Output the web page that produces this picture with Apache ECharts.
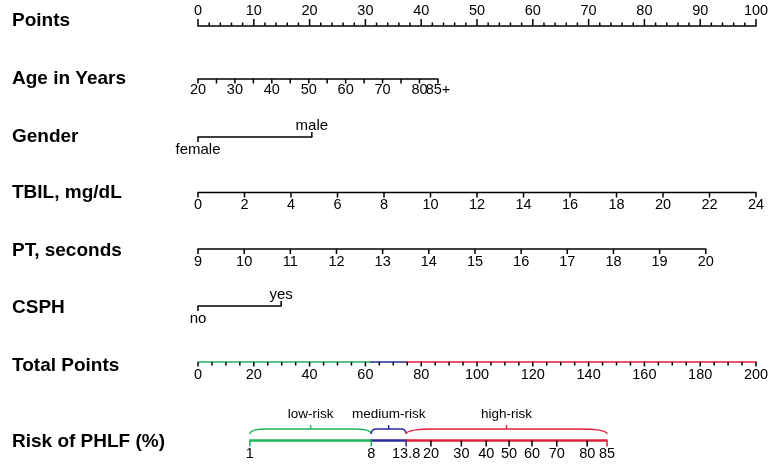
<!DOCTYPE html>
<html><head><meta charset="utf-8">
<script src="https://cdn.jsdelivr.net/npm/echarts@6/dist/echarts.min.js"></script>
<style>html,body{margin:0;padding:0;background:#fff}#c{width:772px;height:465px}</style>
</head><body><div id="c"></div>
<script>
// ---- data ----
const rowTitles = ['Points','Age in Years','Gender','TBIL, mg/dL','PT, seconds','CSPH','Total Points','Risk of PHLF (%)'];

const pointsTicks = [0,10,20,30,40,50,60,70,80,90,100];
const pointsMinorTicks = [2,4,6,8,12,14,16,18,22,24,26,28,32,34,36,38,42,44,46,48,52,54,56,58,62,64,66,68,72,74,76,78,82,84,86,88,92,94,96,98];

const ageTicks = [20,30,40,50,60,70,80,85];
const ageTickLabels = ['20','30','40','50','60','70','80','85+'];
const ageMinorTicks = [25,35,45,55,65,75];
const ageRange = [20,85];
const agePointsRange = [0,43];

const genderLevels = ['female','male'];
const genderPoints = [0,20.4];

const tbilTicks = [0,2,4,6,8,10,12,14,16,18,20,22,24];
const tbilRange = [0,24];
const tbilPointsRange = [0,100];

const ptTicks = [9,10,11,12,13,14,15,16,17,18,19,20];
const ptRange = [9,20];
const ptPointsRange = [0,91];

const csphLevels = ['no','yes'];
const csphPoints = [0,14.9];

const totalTicks = [0,20,40,60,80,100,120,140,160,180,200];
const totalMinorTicks = [5,10,15,25,30,35,45,50,55,65,70,75,85,90,95,105,110,115,125,130,135,145,150,155,165,170,175,185,190,195];
const totalMax = 200;

const riskTickLabels = ['1','8','13.8','20','30','40','50','60','70','80','85'];
const riskTickTotalPoints = [18.6,62.1,74.6,83.5,94.4,103.3,111.5,119.7,128.6,139.5,146.6];
const riskGroups = ['low-risk','medium-risk','high-risk'];
const riskGroupTickIdx = [[0,1],[1,2],[2,10]];
const riskGroupColors = ['#1fb45a','#2a2a9a','#e0203c'];

// ---- layout (pixels) ----
const ROW_Y = [26,79,137,192.5,249,306,362,440.5];
const TITLE_Y = [21,79,137,193,251,308,366,442];
const LABEL_FONT = '14.5px "Liberation Sans", Arial, sans-serif';
const LEVEL_FONT = '15px "Liberation Sans", Arial, sans-serif';
const GROUP_FONT = '13.5px "Liberation Sans", Arial, sans-serif';
const TITLE_FONT = 'bold 19px "Liberation Sans", Arial, sans-serif';
const INK = '#000';

function lin(v, r, p){ return p[0] + (v - r[0]) * (p[1]-p[0]) / (r[1]-r[0]); }
function tp2x(t){ return t * 100 / totalMax; }

const items = [];
function seg(x1,x2,y,color,w){ items.push({k:'seg',x:x1,x2:x2,y:y,color:color||INK,w:w||1.6}); }
function tick(x,y,dir,len,color){ items.push({k:'tick',x:x,y:y,dir:dir,len:len,color:color||INK}); }
function label(x,y,text,dy,font){ items.push({k:'text',x:x,y:y,text:text,dy:dy,font:font||LABEL_FONT}); }
function brace(x1,x2,y,color){ items.push({k:'brace',x:x1,x2:x2,y:y,color:color}); }

// Points
let y = ROW_Y[0];
seg(0,100,y);
pointsMinorTicks.forEach(v=>tick(v,y,-1,3.5));
pointsTicks.forEach(v=>{tick(v,y,-1,7); label(v,y,String(v),-15);});

// Age
y = ROW_Y[1];
seg(lin(ageRange[0],ageRange,agePointsRange), lin(ageRange[1],ageRange,agePointsRange), y);
ageMinorTicks.forEach(v=>tick(lin(v,ageRange,agePointsRange),y,1,4.5));
ageTicks.forEach((v,i)=>{const x=lin(v,ageRange,agePointsRange); tick(x,y,1,4.5); label(x,y,ageTickLabels[i],11);});

// Gender
y = ROW_Y[2];
seg(genderPoints[0],genderPoints[1],y);
tick(genderPoints[0],y,1,5); label(genderPoints[0],y,genderLevels[0],12.5,LEVEL_FONT);
tick(genderPoints[1],y,-1,5); label(genderPoints[1],y,genderLevels[1],-11,LEVEL_FONT);

// TBIL
y = ROW_Y[3];
seg(tbilPointsRange[0],tbilPointsRange[1],y);
tbilTicks.forEach(v=>{const x=lin(v,tbilRange,tbilPointsRange); tick(x,y,1,5); label(x,y,String(v),12.5);});

// PT
y = ROW_Y[4];
seg(ptPointsRange[0],ptPointsRange[1],y);
ptTicks.forEach(v=>{const x=lin(v,ptRange,ptPointsRange); tick(x,y,1,5); label(x,y,String(v),13);});

// CSPH
y = ROW_Y[5];
seg(csphPoints[0],csphPoints[1],y);
tick(csphPoints[0],y,1,5); label(csphPoints[0],y,csphLevels[0],12.5,LEVEL_FONT);
tick(csphPoints[1],y,-1,5); label(csphPoints[1],y,csphLevels[1],-11,LEVEL_FONT);

// Total points (coloured by risk group)
y = ROW_Y[6];
const tpBounds = [0, riskTickTotalPoints[riskGroupTickIdx[0][1]], riskTickTotalPoints[riskGroupTickIdx[1][1]], totalMax];
for(let g=0; g<3; g++) seg(tp2x(tpBounds[g]), tp2x(tpBounds[g+1]), y, riskGroupColors[g], 1.6);
totalMinorTicks.forEach(v=>tick(tp2x(v),y,1,3.5));
totalTicks.forEach(v=>{tick(tp2x(v),y,1,4.5); label(tp2x(v),y,String(v),12.5);});

// Risk
y = ROW_Y[7];
riskGroupTickIdx.forEach((r,g)=>{
  const x1 = tp2x(riskTickTotalPoints[r[0]]), x2 = tp2x(riskTickTotalPoints[r[1]]);
  seg(x1,x2,y,riskGroupColors[g],2.6);
  brace(x1,x2,y,riskGroupColors[g]);
  label((x1+x2)/2,y,riskGroups[g],-26.5,GROUP_FONT);
});
riskTickTotalPoints.forEach((t,i)=>{
  let c = INK;
  if(i===0||i===1) c = riskGroupColors[0];
  else if(i===2) c = riskGroupColors[1];
  else if(i===riskTickTotalPoints.length-1) c = riskGroupColors[2];
  tick(tp2x(t),y,1,6,c);
  label(tp2x(t),y,riskTickLabels[i],13.5);
});

function renderItem(params, api){
  const d = items[params.dataIndex];
  const p = api.coord([d.x, d.y]);
  if(d.k==='seg'){
    const q = api.coord([d.x2, d.y]);
    return {type:'line', shape:{x1:p[0]-0.6,y1:p[1],x2:q[0]+0.6,y2:q[1]}, style:{stroke:d.color,lineWidth:d.w}};
  }
  if(d.k==='tick'){
    return {type:'line', shape:{x1:p[0],y1:p[1],x2:p[0],y2:p[1]+d.dir*d.len}, style:{stroke:d.color,lineWidth:1.5}};
  }
  if(d.k==='text'){
    return {type:'text', x:p[0], y:p[1]+d.dy, style:{text:d.text, fill:INK, font:d.font, align:'center', verticalAlign:'middle'}};
  }
  if(d.k==='brace'){
    const q = api.coord([d.x2, d.y]);
    const x1=p[0], x2=q[0], yb=p[1]-6.5, yt=p[1]-11.5, r=(x2-x1)*0.15, xm=(x1+x2)/2;
    const path = 'M'+x1+','+yb+' Q'+x1+','+yt+' '+(x1+r)+','+yt+' L'+(x2-r)+','+yt+' Q'+x2+','+yt+' '+x2+','+yb+
                 ' M'+xm+','+yt+' L'+xm+','+(yt-4);
    return {type:'path', shape:{pathData:path}, style:{stroke:d.color,fill:null,lineWidth:1.4}};
  }
}

const chart = echarts.init(document.getElementById('c'), null, {renderer:'canvas'});
chart.setOption({
  backgroundColor:'#fff',
  animation:false,
  grid:{left:198,right:16,top:0,bottom:0},
  xAxis:{type:'value',min:0,max:100,show:false},
  yAxis:{type:'value',min:0,max:465,inverse:true,show:false},
  graphic: rowTitles.map((t,i)=>({type:'text', x:12, y:TITLE_Y[i], style:{text:t, font:TITLE_FONT, fill:INK, verticalAlign:'middle'}})),
  series:[{
    type:'custom', coordinateSystem:'cartesian2d', clip:false, silent:true,
    data: items.map(d=>[d.x,d.y]),
    renderItem: renderItem
  }]
});
</script></body></html>
